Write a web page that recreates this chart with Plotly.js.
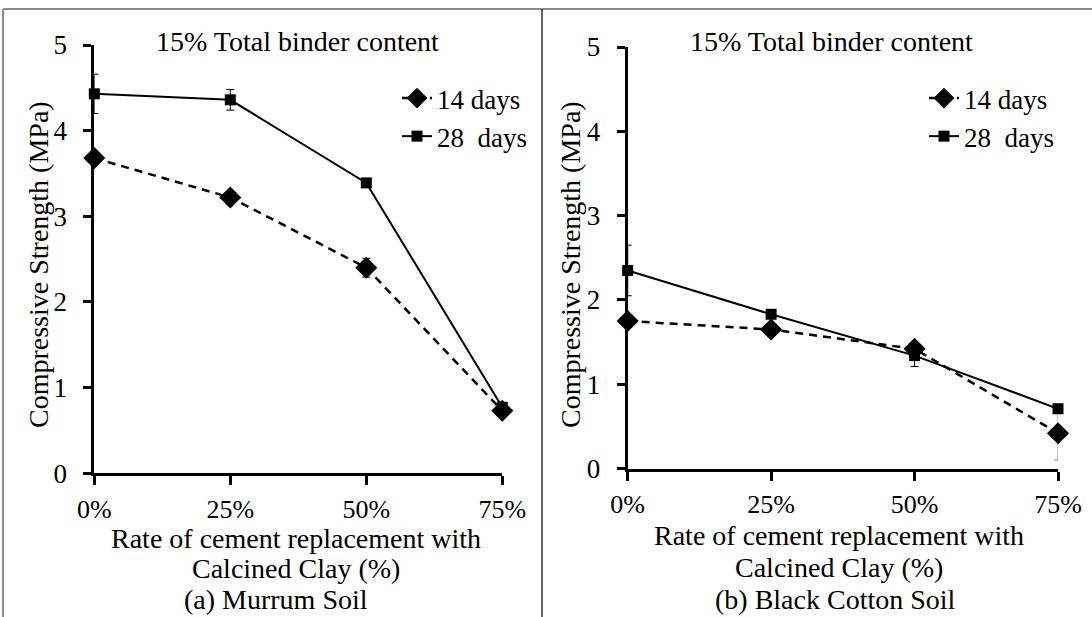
<!DOCTYPE html>
<html>
<head>
<meta charset="utf-8">
<script src="https://cdn.plot.ly/plotly-3.0.1.min.js"></script>
<style>html,body{margin:0;padding:0;background:#fff;}#chart{width:1092px;height:617px;}</style>
</head>
<body>
<div id="chart"></div>
<script>
// ---- data ----
const categories = ['0%', '25%', '50%', '75%'];
const seriesNames = ['14 days', '28  days'];

// (a) Murrum Soil
const murrum14 = [3.68, 3.22, 2.40, 0.73];
const murrum14Err = [0.03, 0.05, 0.11, 0.03];
const murrum28 = [4.43, 4.36, 3.39, 0.77];
const murrum28Err = [0.23, 0.12, 0.03, 0.03];

// (b) Black Cotton Soil
const bcs14 = [1.75, 1.65, 1.42, 0.42];
const bcs14Err = [0.05, 0.05, 0.05, 0.32];
const bcs28 = [2.35, 1.83, 1.34, 0.71];
const bcs28Err = [0.30, 0.05, 0.13, 0.05];

const panelTitle = '15% Total binder content';
const yTitle = 'Compressive Strength (MPa)';
const xTitle1 = 'Rate of cement replacement with';
const xTitle2 = 'Calcined Clay (%)';
const captionA = '(a) Murrum Soil';
const captionB = '(b) Black Cotton Soil';

// ---- styling ----
const FONT = '"Liberation Serif", "Times New Roman", serif';
const W = 1092, H = 617;
const px = v => v / W;
const py = v => (H - v) / H;

function dashedTrace(x, y, err, xa, ya, legend, errColor) {
  return {
    x: x, y: y, xaxis: xa, yaxis: ya, legend: legend,
    name: seriesNames[0], type: 'scatter', mode: 'lines+markers', cliponaxis: false,
    line: {color: '#000', width: 2.5, dash: '8px,6px'},
    marker: {symbol: 'diamond', size: 17, color: '#000'},
    error_y: {type: 'data', array: err, visible: true, color: errColor || '#000', thickness: 1, width: 4}
  };
}
function solidTrace(x, y, err, xa, ya, legend) {
  return {
    x: x, y: y, xaxis: xa, yaxis: ya, legend: legend,
    name: seriesNames[1], type: 'scatter', mode: 'lines+markers', cliponaxis: false,
    line: {color: '#000', width: 2},
    marker: {symbol: 'square', size: 11, color: '#000'},
    error_y: {type: 'data', array: err, visible: true, color: '#000', thickness: 1, width: 4}
  };
}

const data = [
  dashedTrace(categories, murrum14, murrum14Err, 'x', 'y', 'legend'),
  solidTrace(categories, murrum28, murrum28Err, 'x', 'y', 'legend'),
  dashedTrace(categories, bcs14, bcs14Err, 'x2', 'y2', 'legend2', '#8a8a8a'),
  solidTrace(categories, bcs28, bcs28Err, 'x2', 'y2', 'legend2')
];

function xAxis(domain, anchor) {
  return {
    domain: domain, anchor: anchor, type: 'category', range: [0, 3],
    showline: true, linewidth: 3, linecolor: '#000', showgrid: false, zeroline: false,
    ticks: 'outside', ticklen: 9, tickwidth: 3, tickcolor: '#000',
    ticklabelstandoff: 1,
    tickfont: {family: FONT, size: 26, color: '#000'}
  };
}
function yAxis(domain, anchor) {
  return {
    domain: domain, anchor: anchor, range: [0, 5], dtick: 1,
    showline: true, linewidth: 3, linecolor: '#000', showgrid: false, zeroline: false,
    ticks: 'outside', ticklen: 8, tickwidth: 3, tickcolor: '#000',
    ticklabelstandoff: 11,
    tickfont: {family: FONT, size: 27, color: '#000'}
  };
}

function ann(text, x, y, opts) {
  return Object.assign({
    text: text, xref: 'paper', yref: 'paper', x: px(x), y: py(y),
    xanchor: 'center', yanchor: 'middle', showarrow: false,
    font: {family: FONT, size: 28, color: '#000'}
  }, opts || {});
}

const legendStyle = {
  font: {family: FONT, size: 27, color: '#000'},
  bgcolor: 'rgba(0,0,0,0)', borderwidth: 0,
  xanchor: 'left', yanchor: 'top', tracegroupgap: 0, itemsizing: 'trace'
};

const layout = {
  width: W, height: H,
  margin: {l: 0, r: 0, t: 0, b: 0},
  paper_bgcolor: '#fff', plot_bgcolor: '#fff',
  font: {family: FONT, color: '#000'},
  xaxis: xAxis([px(94.3), px(502.3)], 'y'),
  yaxis: yAxis([py(473.3), py(45)], 'x'),
  xaxis2: xAxis([px(627.7), px(1058)], 'y2'),
  yaxis2: yAxis([py(468.6), py(47)], 'x2'),
  legend: Object.assign({x: px(397), y: py(74)}, legendStyle),
  legend2: Object.assign({x: px(924), y: py(74)}, legendStyle),
  annotations: [
    ann(panelTitle, 297.5, 42),
    ann(panelTitle, 831, 42),
    ann(yTitle, 38, 265, {textangle: -90}),
    ann(yTitle, 570, 265, {textangle: -90}),
    ann(xTitle1, 296, 538),
    ann(xTitle2, 296, 568),
    ann(captionA, 276, 599),
    ann(xTitle1, 839, 535),
    ann(xTitle2, 839, 567),
    ann(captionB, 836, 599)
  ],
  shapes: [
    {type: 'line', xref: 'paper', yref: 'paper', x0: px(3), x1: px(3), y0: 0, y1: py(9), line: {color: '#666', width: 1.5}},
    {type: 'line', xref: 'paper', yref: 'paper', x0: px(3), x1: 1, y0: py(9), y1: py(9), line: {color: '#666', width: 1.5}},
    {type: 'line', xref: 'paper', yref: 'paper', x0: px(542), x1: px(542), y0: 0, y1: py(9), line: {color: '#333', width: 1.5}}
  ],
  showlegend: true
};

Plotly.newPlot('chart', data, layout, {displayModeBar: false, staticPlot: true});
</script>
</body>
</html>
